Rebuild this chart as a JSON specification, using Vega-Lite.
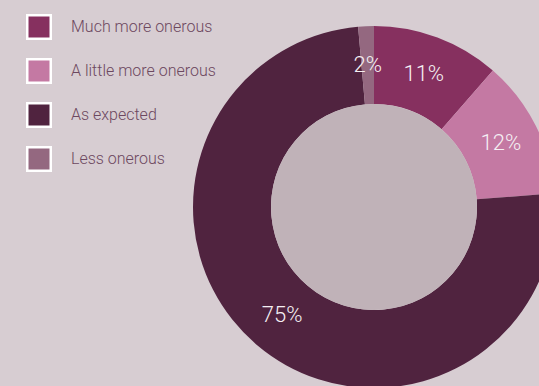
{
  "$schema": "https://vega.github.io/schema/vega-lite/v6.json",
  "width": 330,
  "height": 358,
  "autosize": {"type": "none"},
  "padding": {"left": 209, "top": 28, "right": 0, "bottom": 0},
  "background": "#d7cdd2",
  "config": {"view": {"stroke": null}},
  "datasets": {
    "shares": [
      {"category": "Much more onerous", "share": 11.4, "label": "11%", "ord": 1},
      {"category": "A little more onerous", "share": 12.4, "label": "12%", "ord": 2},
      {"category": "As expected", "share": 74.8, "label": "75%", "ord": 3},
      {"category": "Less onerous", "share": 1.4, "label": "2%", "ord": 4}
    ],
    "hole": [{"part": "centre"}]
  },
  "layer": [
    {
      "data": {"name": "shares"},
      "mark": {"type": "arc", "radius": 181, "radius2": 103},
      "encoding": {
        "theta": {"field": "share", "type": "quantitative", "stack": true},
        "order": {"field": "ord", "type": "quantitative"},
        "color": {
          "field": "category",
          "type": "nominal",
          "scale": {
            "domain": ["Much more onerous", "A little more onerous", "As expected", "Less onerous"],
            "range": ["#86305f", "#c479a3", "#50233f", "#946880"]
          },
          "legend": {
            "title": null,
            "orient": "none",
            "legendX": -183,
            "legendY": -14,
            "padding": 0,
            "symbolType": "square",
            "symbolSize": 552,
            "symbolStrokeColor": "#ffffff",
            "symbolStrokeWidth": 2.5,
            "symbolOpacity": 1,
            "rowPadding": 10,
            "labelFont": "Roboto",
            "labelFontWeight": 300,
            "labelFontSize": 16,
            "labelColor": "#6d4860",
            "labelOffset": 19,
            "labelLimit": 300
          }
        }
      }
    },
    {
      "data": {"name": "hole"},
      "mark": {"type": "arc", "radius": 103, "radius2": 0, "theta": 0, "theta2": 6.2832, "color": "#c0b2b8"},
      "encoding": {}
    },
    {
      "data": {"name": "shares"},
      "mark": {"type": "text", "radius": 142, "font": "Roboto", "fontWeight": 300, "fontSize": 22, "color": "#f5eff3", "align": "center", "baseline": "middle"},
      "encoding": {
        "theta": {"field": "share", "type": "quantitative", "stack": true},
        "order": {"field": "ord", "type": "quantitative"},
        "text": {"field": "label"}
      }
    }
  ]
}
